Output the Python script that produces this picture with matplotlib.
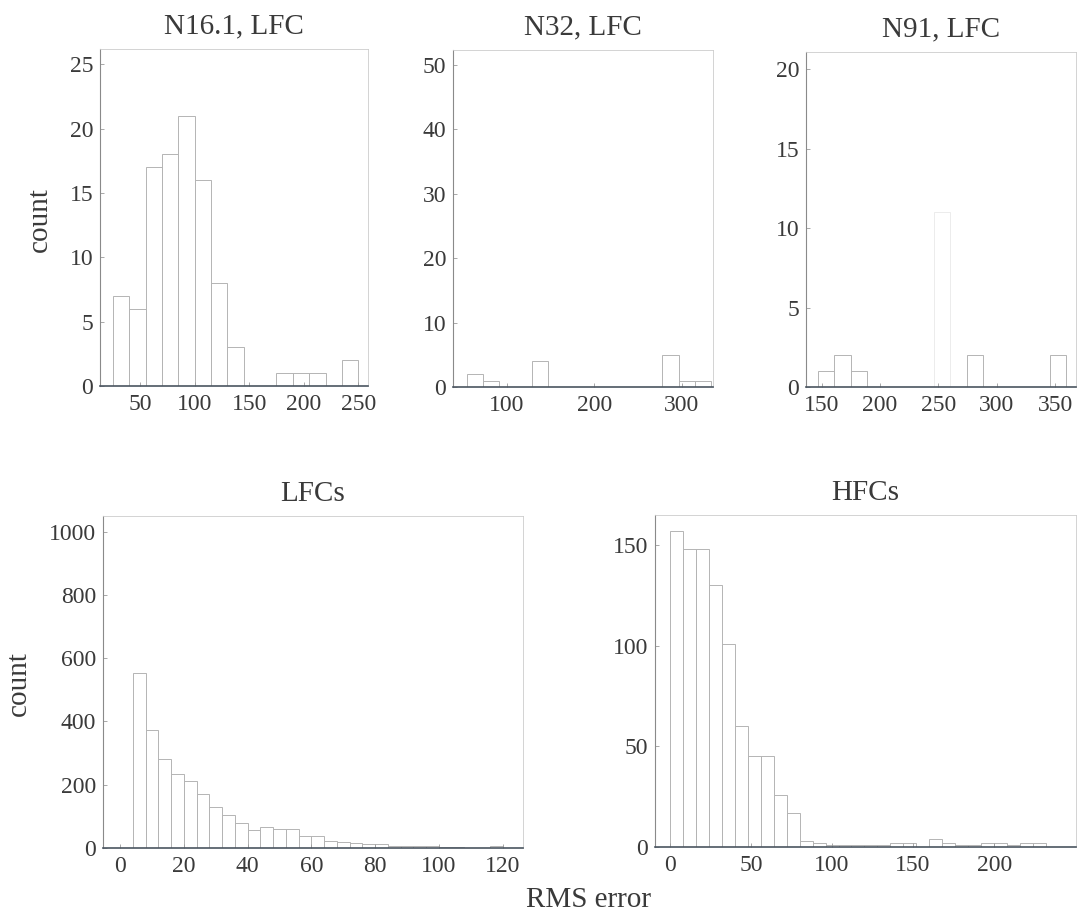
import numpy as np
import matplotlib
matplotlib.use('Agg')
import matplotlib.pyplot as plt

plt.rcParams['font.family'] = ['Liberation Serif', 'DejaVu Serif']

# N16.1, LFC histogram (bin start, bin width, counts)
n16_start, n16_width = 25, 15
n16_counts = [7, 6, 17, 18, 21, 16, 8, 3, 0, 0, 1, 1, 1, 0, 2]

# N32, LFC
n32_start, n32_width = 53.5, 18.7
n32_counts = [2, 1, 0, 0, 4, 0, 0, 0, 0, 0, 0, 0, 5, 1, 1]

# N91, LFC (the bin of 11 is almost washed out in the scan)
n91_start, n91_width = 146.5, 14.2
n91_counts = [1, 2, 1, 0, 0, 0, 0, 0, 0, 2, 0, 0, 0, 0, 2]
n91_faint = [0, 0, 0, 0, 0, 0, 0, 11, 0, 0, 0, 0, 0, 0, 0]

# all LFCs
lfc_start, lfc_width = 0, 4
lfc_counts = [0, 552, 374, 280, 233, 211, 172, 128, 105, 80, 56, 66, 61, 61,
              37, 37, 22, 20, 17, 14, 12, 6, 5, 5, 5, 4, 4, 0, 0, 5]

# all HFCs
hfc_start, hfc_width = 0, 8
hfc_counts = [157, 148, 148, 130, 101, 60, 45, 45, 26, 17, 3, 2, 1, 1, 1, 1,
              1, 2, 2, 0, 4, 2, 1, 1, 2, 2, 1, 2, 2]

W, H = 1077, 918
fig = plt.figure(figsize=(W / 100, H / 100), dpi=100)

bar_color = '#b4b4b4'
text_color = '#3a3a3a'


def panel(left, top, right, bottom):
    return fig.add_axes([left / W, 1 - bottom / H, (right - left) / W, (bottom - top) / H])


def draw_hist(ax, start, width, counts, color=bar_color):
    lefts = start + width * np.arange(len(counts))
    ax.bar(lefts, counts, width=width, align='edge', fill=False,
           edgecolor=color, linewidth=0.7)


def style(ax, title, xlim, ylim, xticks, yticks):
    ax.set_xlim(xlim)
    ax.set_ylim(ylim)
    ax.set_xticks(xticks)
    ax.set_yticks(yticks)
    ax.tick_params(direction='in', length=3, width=0.6, color='#9a9a9a',
                   labelsize=17, labelcolor=text_color)
    ax.tick_params(axis='x', pad=6)
    ax.tick_params(axis='y', pad=5)
    ax.spines['bottom'].set_color('#4a5560')
    ax.spines['bottom'].set_linewidth(1.2)
    ax.spines['left'].set_color('#8a8a8a')
    ax.spines['left'].set_linewidth(0.8)
    ax.spines['top'].set_color('#cccccc')
    ax.spines['right'].set_color('#cccccc')
    ax.spines['top'].set_linewidth(0.6)
    ax.spines['right'].set_linewidth(0.6)
    ax.set_title(title, fontsize=21, color=text_color, pad=11)


ax1 = panel(100, 49, 368, 386)
draw_hist(ax1, n16_start, n16_width, n16_counts)
style(ax1, 'N16.1, LFC', (13, 259), (0, 26.2), [50, 100, 150, 200, 250], [0, 5, 10, 15, 20, 25])

ax2 = panel(453, 50, 713, 387)
draw_hist(ax2, n32_start, n32_width, n32_counts)
style(ax2, 'N32, LFC', (38, 336), (0, 52.3), [100, 200, 300], [0, 10, 20, 30, 40, 50])

ax3 = panel(806, 52, 1076, 387)
draw_hist(ax3, n91_start, n91_width, n91_faint, color='#ececec')
draw_hist(ax3, n91_start, n91_width, n91_counts)
style(ax3, 'N91, LFC', (136.5, 368), (0, 21.1), [150, 200, 250, 300, 350], [0, 5, 10, 15, 20])

ax4 = panel(103, 516, 523, 848)
draw_hist(ax4, lfc_start, lfc_width, lfc_counts)
style(ax4, 'LFCs', (-5.4, 126.4), (0, 1049), [0, 20, 40, 60, 80, 100, 120],
      [0, 200, 400, 600, 800, 1000])

ax5 = panel(655, 515, 1076, 847)
draw_hist(ax5, hfc_start, hfc_width, hfc_counts)
style(ax5, 'HFCs', (-9.2, 250.5), (0, 165), [0, 50, 100, 150, 200], [0, 50, 100, 150])

fig.text(40 / W, 1 - 220 / H, 'count', rotation=90, ha='center', va='center',
         fontsize=21, color=text_color)
fig.text(19 / W, 1 - 684 / H, 'count', rotation=90, ha='center', va='center',
         fontsize=21, color=text_color)
fig.text(588 / W, 1 - 900 / H, 'RMS error', ha='center', va='center',
         fontsize=21, color=text_color)

fig.savefig('out.png', dpi=100)
